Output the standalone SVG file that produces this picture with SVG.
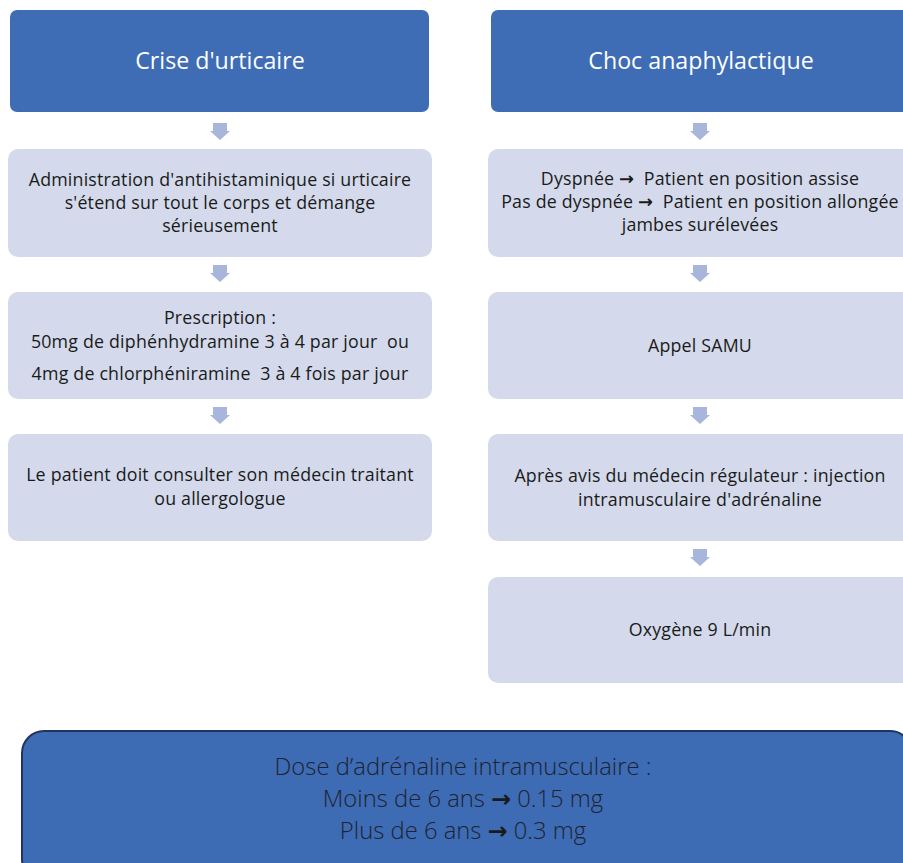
<svg xmlns="http://www.w3.org/2000/svg" width="903" height="863" viewBox="0 0 903 863">
<style>
.hdr{fill:#3e6db5}
.box{fill:#d4daeb}
.arr{fill:#a8b6dc}
.ht{font-family:"Open Sans","Liberation Sans",sans-serif;font-size:23.2px;fill:#fff;text-anchor:middle}
.t{font-family:"Open Sans","Liberation Sans",sans-serif;font-size:17.8px;letter-spacing:0.2px;fill:#1a1a1a;text-anchor:middle}
.bt{font-family:"Open Sans","Liberation Sans",sans-serif;font-weight:300;font-size:23.8px;fill:#1e2330;text-anchor:middle}
.a{font-family:"DejaVu Sans",sans-serif;font-weight:bold}
</style>
<rect width="903" height="863" fill="#fff"/>
<g id="connectors">
<path class="arr" d="M213 123h14v8h3l-10 9l-10-9h3z"/>
<path class="arr" d="M213 265h14v8h3l-10 9l-10-9h3z"/>
<path class="arr" d="M213 407h14v8h3l-10 9l-10-9h3z"/>
<path class="arr" d="M693 123h14v8h3l-10 9l-10-9h3z"/>
<path class="arr" d="M693 265h14v8h3l-10 9l-10-9h3z"/>
<path class="arr" d="M693 407h14v8h3l-10 9l-10-9h3z"/>
<path class="arr" d="M693 549h14v8h3l-10 9l-10-9h3z"/>
</g>
<g id="crise">
<rect class="hdr" x="10" y="10" width="419" height="102" rx="7"/>
<text class="ht" x="220" y="69">Crise d'urticaire</text>
</g>
<g id="choc">
<rect class="hdr" x="491" y="10" width="420" height="102" rx="7"/>
<text class="ht" x="701" y="69">Choc anaphylactique</text>
</g>
<g id="antihist">
<rect class="box" x="8" y="149" width="424" height="108" rx="10"/>
<text class="t" x="220" y="186">Administration d'antihistaminique si urticaire</text>
<text class="t" x="220" y="209">s'étend sur tout le corps et démange</text>
<text class="t" x="220" y="232">sérieusement</text>
</g>
<g id="prescription">
<rect class="box" x="8" y="292" width="424" height="107" rx="10"/>
<text class="t" x="220" y="324">Prescription :</text>
<text class="t" x="220" y="348">50mg de diphénhydramine 3 à 4 par jour&#160; ou</text>
<text class="t" x="220" y="380">4mg de chlorphéniramine&#160; 3 à 4 fois par jour</text>
</g>
<g id="consulter">
<rect class="box" x="8" y="434" width="424" height="107" rx="10"/>
<text class="t" x="220" y="481">Le patient doit consulter son médecin traitant</text>
<text class="t" x="220" y="505">ou allergologue</text>
</g>
<g id="position">
<rect class="box" x="488" y="149" width="424" height="108" rx="10"/>
<text class="t" x="700" y="185">Dyspnée <tspan class="a">→</tspan>&#160; Patient en position assise</text>
<text class="t" x="700" y="208">Pas de dyspnée <tspan class="a">→</tspan>&#160; Patient en position allongée</text>
<text class="t" x="700" y="231">jambes surélevées</text>
</g>
<g id="samu">
<rect class="box" x="488" y="292" width="424" height="107" rx="10"/>
<text class="t" x="700" y="352">Appel SAMU</text>
</g>
<g id="injection">
<rect class="box" x="488" y="434" width="424" height="107" rx="10"/>
<text class="t" x="700" y="482">Après avis du médecin régulateur : injection</text>
<text class="t" x="700" y="506">intramusculaire d'adrénaline</text>
</g>
<g id="oxygene">
<rect class="box" x="488" y="577" width="424" height="106" rx="10"/>
<text class="t" x="700" y="636">Oxygène 9 L/min</text>
</g>
<g id="dose">
<rect x="22" y="731" width="890" height="150" rx="22" fill="#3d6bb4" stroke="#1f3560" stroke-width="2"/>
<text class="bt" x="463" y="775">Dose d’adrénaline intramusculaire :</text>
<text class="bt" x="463" y="807">Moins de 6 ans <tspan class="a" fill="#1a1a1a">→</tspan> 0.15 mg</text>
<text class="bt" x="463" y="839">Plus de 6 ans <tspan class="a" fill="#1a1a1a">→</tspan> 0.3 mg</text>
</g>
</svg>
